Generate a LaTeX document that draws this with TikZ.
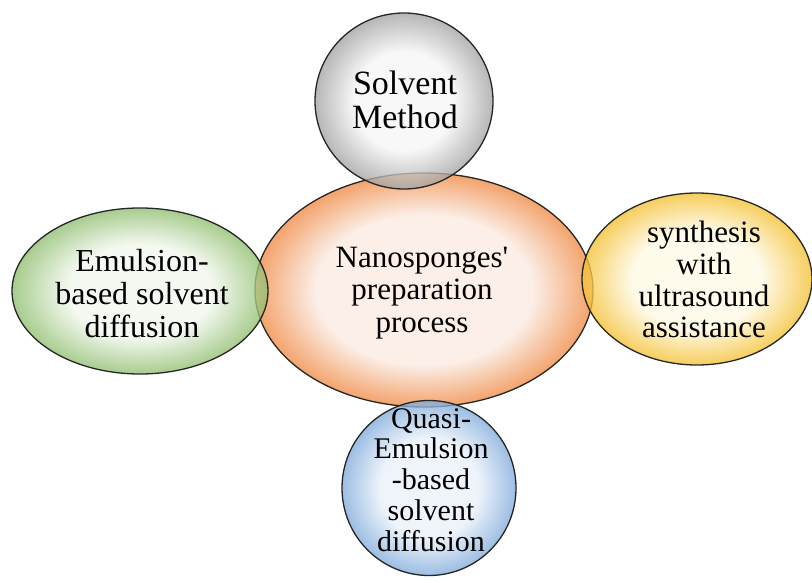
\documentclass[tikz,border=0pt]{standalone}
\usepackage{fontspec}
\setmainfont{Liberation Serif}
\newfontfamily\lbfont{Liberation Serif}
\usetikzlibrary{shapes.geometric}
\definecolor{gin}{HTML}{F6F6F6}\definecolor{gout}{HTML}{A2A2A2}
\definecolor{oin}{HTML}{FBEFE8}\definecolor{oout}{HTML}{F3A36C}
\definecolor{grin}{HTML}{F1F7ED}\definecolor{grout}{HTML}{8FBE6E}
\definecolor{yin}{HTML}{FFFAE6}\definecolor{yout}{HTML}{F4C030}
\definecolor{bin}{HTML}{EAF1FA}\definecolor{bout}{HTML}{80ABDB}
\pgfdeclareradialshading{grayball}{\pgfpoint{0bp}{0bp}}{color(0bp)=(gin); color(14bp)=(gin); color(25bp)=(gout); color(50bp)=(gout)}
\pgfdeclareradialshading{orangeball}{\pgfpoint{0bp}{0bp}}{color(0bp)=(oin); color(16bp)=(oin); color(25bp)=(oout); color(50bp)=(oout)}
\pgfdeclareradialshading{greenball}{\pgfpoint{0bp}{0bp}}{color(0bp)=(grin); color(14bp)=(grin); color(25bp)=(grout); color(50bp)=(grout)}
\pgfdeclareradialshading{yellowball}{\pgfpoint{0bp}{0bp}}{color(0bp)=(yin); color(14bp)=(yin); color(25bp)=(yout); color(50bp)=(yout)}
\pgfdeclareradialshading{blueball}{\pgfpoint{0bp}{0bp}}{color(0bp)=(bin); color(14bp)=(bin); color(25bp)=(bout); color(50bp)=(bout)}
\tikzset{
  ball/.style={ellipse, draw=black!85, line width=1.3pt, inner sep=0pt},
  seeball/.style={ball, fill opacity=0.78, draw opacity=1},
  lbl/.style={align=center, inner sep=0pt, anchor=north, text=black},
}
\begin{document}
\begin{tikzpicture}[x=1pt,y=-1pt]
\useasboundingbox (0,0) rectangle (812,583);
\node[ball, shading=orangeball, minimum width=338pt, minimum height=234pt] (core) at (424,290) {};
\node[seeball, shading=grayball, minimum width=178pt, minimum height=176pt] (solv) at (404,101) {};
\node[seeball, shading=greenball, minimum width=256pt, minimum height=166pt] (emul) at (140,291) {};
\node[seeball, shading=yellowball, minimum width=230pt, minimum height=172pt] (ultra) at (697,279) {};
\node[seeball, shading=blueball, minimum width=174pt, minimum height=175pt] (quasi) at (429,488) {};
\node[lbl, font=\lbfont\fontsize{34}{34}\selectfont] (tsolv) at (405,71) {Solvent\\Method};
\node[lbl, font=\lbfont\fontsize{31}{32.5}\selectfont] (tcore) at (422,246.8) {Nanosponges\char"27\\preparation\\process};
\node[lbl, font=\lbfont\fontsize{32}{33}\selectfont] (temul) at (142,249.2) {Emulsion-\\based solvent\\diffusion};
\node[lbl, font=\lbfont\fontsize{31}{31.7}\selectfont] (tultra) at (704,221) {synthesis\\with\\ultrasound\\assistance};
\node[lbl, font=\lbfont\fontsize{30}{30.8}\selectfont] (tquasi) at (431,408) {Quasi-\\Emulsion\\-based\\solvent\\diffusion};
\end{tikzpicture}
\end{document}
